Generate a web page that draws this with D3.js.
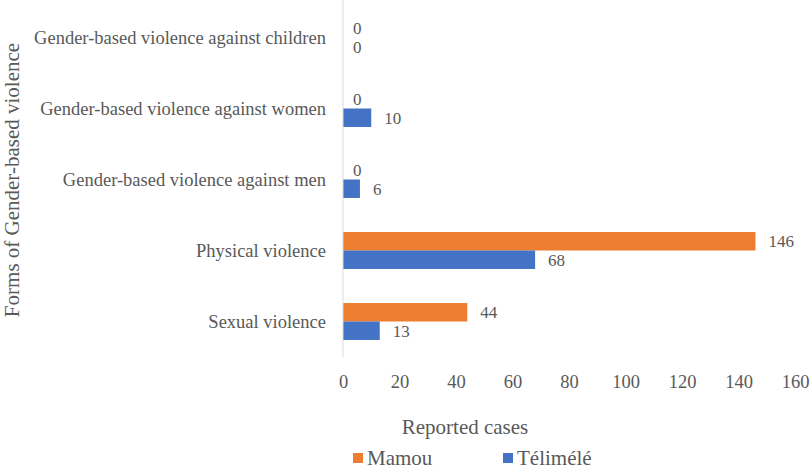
<!DOCTYPE html>
<html>
<head>
<meta charset="utf-8">
<script src="https://cdn.jsdelivr.net/npm/d3@7"></script>
<style>
  body { margin: 0; background: #fff; }
  svg text { font-family: 'Liberation Serif', 'DejaVu Serif', 'Times New Roman', serif; fill: #595959; }
</style>
</head>
<body>
<div id="chart"></div>
<script>
// data
let categories = [
    "Gender-based violence against children",
    "Gender-based violence against women",
    "Gender-based violence against men",
    "Physical violence",
    "Sexual violence"
];
let seriesNames = ["Mamou", "Télimélé"];
let mamou = [0, 0, 0, 146, 44];
let telimele = [0, 10, 6, 68, 13];
let xTicks = [0, 20, 40, 60, 80, 100, 120, 140, 160];

let width = 810, height = 469;
let colors = { "Mamou": "#ED7D31", "Télimélé": "#4472C4" };
let serif = "'Liberation Serif', 'DejaVu Serif', 'Times New Roman', serif";

let svg = d3.select("#chart")
    .append("svg")
    .attr("width", width)
    .attr("height", height)
    .attr("font-family", serif);

let x = d3.scaleLinear()
    .domain([0, 160])
    .range([343, 795]);

let y = d3.scaleBand()
    .domain(categories)
    .range([2, 357])
    .paddingInner(0.48)
    .paddingOuter(0.24);

let sub = d3.scaleBand()
    .domain(seriesNames)
    .range([0, y.bandwidth()]);

// build table
let rows = [];
categories.forEach(function(c, i) {
    rows.push({ cat: c, series: "Mamou", value: mamou[i] });
    rows.push({ cat: c, series: "Télimélé", value: telimele[i] });
});

// bars
svg.append("g").selectAll("rect")
    .data(rows)
    .enter()
    .append("rect")
    .attr("x", x(0))
    .attr("y", function(d) { return y(d.cat) + sub(d.series); })
    .attr("width", function(d) { return x(d.value) - x(0); })
    .attr("height", sub.bandwidth())
    .attr("fill", function(d) { return colors[d.series]; });

// vertical axis line
svg.append("line")
    .attr("x1", x(0)).attr("x2", x(0))
    .attr("y1", 0).attr("y2", 357)
    .attr("stroke", "#D9D9D9")
    .attr("stroke-width", 1);

// value labels
svg.append("g").selectAll("text")
    .data(rows)
    .enter()
    .append("text")
    .attr("x", function(d) { return x(d.value) + (d.value > 0 ? 13 : 10); })
    .attr("y", function(d) { return y(d.cat) + sub(d.series) + sub.bandwidth() / 2; })
    .attr("dy", "0.35em")
    .style("font-size", "17px")
    .style("font-family", serif)
    .text(function(d) { return d.value; });

// category labels
svg.append("g").selectAll("text")
    .data(categories)
    .enter()
    .append("text")
    .attr("x", 326)
    .attr("y", function(d) { return y(d) + y.bandwidth() / 2; })
    .attr("dy", "0.35em")
    .style("text-anchor", "end")
    .style("font-size", "18.5px")
    .style("font-family", serif)
    .text(function(d) { return d; });

// x axis tick labels
let xAxis = svg.append("g")
    .attr("transform", "translate(0, 382)")
    .call(d3.axisBottom(x).tickValues(xTicks).tickSize(0).tickPadding(0));
xAxis.attr("font-family", null).attr("font-size", null);
xAxis.select(".domain").remove();
xAxis.selectAll("text")
    .attr("dy", "0.35em")
    .style("font-size", "18.5px")
    .style("font-family", serif);

// axis titles
svg.append("text")
    .attr("transform", "translate(465, 427)")
    .attr("dy", "0.35em")
    .style("text-anchor", "middle")
    .style("font-size", "21px")
    .style("font-family", serif)
    .text("Reported cases");

svg.append("text")
    .attr("transform", "translate(12, 180) rotate(-90)")
    .attr("dy", "0.35em")
    .style("text-anchor", "middle")
    .style("font-size", "21px")
    .style("font-family", serif)
    .text("Forms of Gender-based violence");

// legend
let legendX = { "Mamou": 353, "Télimélé": 503 };
let legend = svg.append("g").selectAll("g")
    .data(seriesNames)
    .enter()
    .append("g")
    .attr("transform", function(d) { return `translate(${legendX[d]}, 458)`; });

legend.append("rect")
    .attr("x", 0).attr("y", -5)
    .attr("width", 10).attr("height", 10)
    .attr("fill", function(d) { return colors[d]; });

legend.append("text")
    .attr("x", 14)
    .attr("dy", "0.35em")
    .style("font-size", "21px")
    .style("font-family", serif)
    .text(function(d) { return d; });
</script>
</body>
</html>
